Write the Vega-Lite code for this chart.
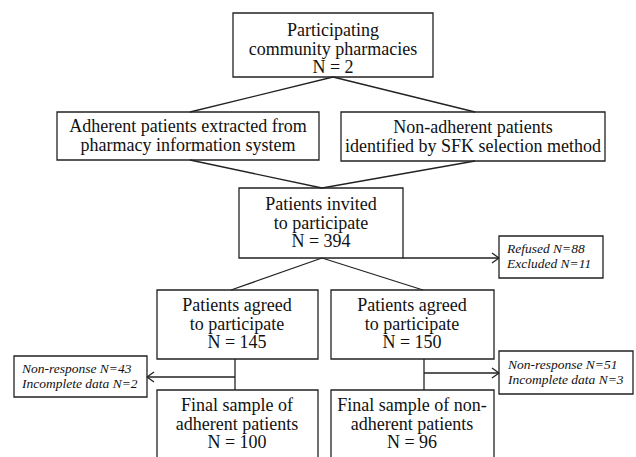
{
  "$schema": "https://vega.github.io/schema/vega-lite/v6.json",
  "width": 636,
  "height": 457,
  "autosize": "none",
  "padding": 0,
  "background": "white",
  "config": {"view": {"stroke": null}},
  "datasets": {
    "boxes": [
      {"id": "pharm", "x1": 233, "x2": 433, "y1": 13, "y2": 77},
      {"id": "adh", "x1": 57, "x2": 319, "y1": 112, "y2": 160},
      {"id": "nonadh", "x1": 341, "x2": 605, "y1": 112, "y2": 161},
      {"id": "invited", "x1": 239, "x2": 403, "y1": 188, "y2": 258},
      {"id": "refused", "x1": 499, "x2": 603, "y1": 236, "y2": 278},
      {"id": "agreedA", "x1": 157, "x2": 318, "y1": 290, "y2": 359},
      {"id": "agreedN", "x1": 331, "x2": 494, "y1": 290, "y2": 359},
      {"id": "nrA", "x1": 14, "x2": 147, "y1": 356, "y2": 397},
      {"id": "nrN", "x1": 499, "x2": 633, "y1": 351, "y2": 394},
      {"id": "finalA", "x1": 157, "x2": 318, "y1": 390, "y2": 470},
      {"id": "finalN", "x1": 331, "x2": 494, "y1": 390, "y2": 470}
    ],
    "lines": [
      {"x1": 333, "y1": 77, "x2": 190, "y2": 112},
      {"x1": 333, "y1": 77, "x2": 475, "y2": 112},
      {"x1": 190, "y1": 160, "x2": 322, "y2": 188},
      {"x1": 475, "y1": 161, "x2": 322, "y2": 188},
      {"x1": 403, "y1": 258, "x2": 499, "y2": 258},
      {"x1": 492, "y1": 253, "x2": 499, "y2": 258},
      {"x1": 492, "y1": 263, "x2": 499, "y2": 258},
      {"x1": 322, "y1": 258, "x2": 231, "y2": 290},
      {"x1": 322, "y1": 258, "x2": 423, "y2": 290},
      {"x1": 235, "y1": 359, "x2": 235, "y2": 390},
      {"x1": 235, "y1": 377, "x2": 147, "y2": 377},
      {"x1": 154, "y1": 372, "x2": 147, "y2": 377},
      {"x1": 154, "y1": 382, "x2": 147, "y2": 377},
      {"x1": 424, "y1": 359, "x2": 424, "y2": 390},
      {"x1": 424, "y1": 373, "x2": 499, "y2": 373},
      {"x1": 492, "y1": 368, "x2": 499, "y2": 373},
      {"x1": 492, "y1": 378, "x2": 499, "y2": 373}
    ],
    "labels": [
      {"x": 333, "y": 31, "text": "Participating\ncommunity pharmacies\nN = 2"},
      {"x": 188, "y": 127, "text": "Adherent patients extracted from\npharmacy information system"},
      {"x": 473, "y": 128, "text": "Non-adherent patients\nidentified by SFK selection method"},
      {"x": 321, "y": 205, "text": "Patients invited\nto participate\nN = 394"},
      {"x": 237, "y": 306, "text": "Patients agreed\nto participate\nN = 145"},
      {"x": 412, "y": 306, "text": "Patients agreed\nto participate\nN = 150"},
      {"x": 237, "y": 406, "text": "Final sample of\nadherent patients\nN = 100"},
      {"x": 412, "y": 406, "text": "Final sample of non-\nadherent patients\nN = 96"}
    ],
    "notes": [
      {"x": 507, "y": 249, "text": "Refused N=88\nExcluded N=11"},
      {"x": 22, "y": 369, "text": "Non-response N=43\nIncomplete data N=2"},
      {"x": 508, "y": 365, "text": "Non-response N=51\nIncomplete data N=3"}
    ]
  },
  "layer": [
    {
      "data": {"name": "boxes"},
      "mark": {"type": "rect", "fill": "white", "stroke": "#222222", "strokeWidth": 1.3},
      "encoding": {
        "x": {"field": "x1", "type": "quantitative", "scale": {"domain": [0, 636], "nice": false, "zero": false}, "axis": null},
        "x2": {"field": "x2"},
        "y": {"field": "y1", "type": "quantitative", "scale": {"domain": [0, 457], "nice": false, "zero": false, "reverse": true}, "axis": null},
        "y2": {"field": "y2"}
      }
    },
    {
      "data": {"name": "lines"},
      "mark": {"type": "rule", "stroke": "#222222", "strokeWidth": 1.3},
      "encoding": {
        "x": {"field": "x1", "type": "quantitative"},
        "x2": {"field": "x2"},
        "y": {"field": "y1", "type": "quantitative"},
        "y2": {"field": "y2"}
      }
    },
    {
      "data": {"name": "labels"},
      "mark": {"type": "text", "font": "Liberation Serif", "fontSize": 18, "lineHeight": 18.5, "lineBreak": "\n", "align": "center", "baseline": "middle", "color": "#111111"},
      "encoding": {
        "x": {"field": "x", "type": "quantitative"},
        "y": {"field": "y", "type": "quantitative"},
        "text": {"field": "text"}
      }
    },
    {
      "data": {"name": "notes"},
      "mark": {"type": "text", "font": "Liberation Serif", "fontSize": 13.5, "fontStyle": "italic", "lineHeight": 15, "lineBreak": "\n", "align": "left", "baseline": "middle", "color": "#111111"},
      "encoding": {
        "x": {"field": "x", "type": "quantitative"},
        "y": {"field": "y", "type": "quantitative"},
        "text": {"field": "text"}
      }
    }
  ]
}
